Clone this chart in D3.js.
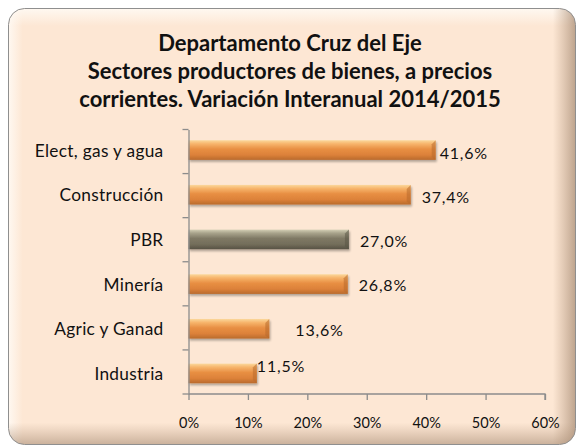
<!DOCTYPE html>
<html>
<head>
<meta charset="utf-8">
<script src="https://cdn.jsdelivr.net/npm/d3@7"></script>
<style>
  body { margin: 0; background: #fff; }
  svg text { font-family: Lato, "Open Sans", sans-serif; fill: #111; }
</style>
</head>
<body>
<div class="content"></div>
<script>
const titleLines = [
  'Departamento Cruz del Eje',
  'Sectores productores de bienes, a precios',
  'corrientes. Variación Interanual 2014/2015'
];
const categories = ['Elect, gas y agua', 'Construcción', 'PBR', 'Minería', 'Agric y Ganad', 'Industria'];
const values = [41.6, 37.4, 27.0, 26.8, 13.6, 11.5];
const xTicks = [0, 10, 20, 30, 40, 50, 60];

// manual nudges of the value labels, as in the original
const labelNudge = {
  'Elect, gas y agua': [4, 0],
  'Construcción': [11, 0],
  'PBR': [11, 0],
  'Minería': [11, 0],
  'Agric y Ganad': [26, 0],
  'Industria': [0, -8]
};

const width = 578, height = 448;
const margin = { left: 188.5, right: 33, top: 129.5, bottom: 54 };

const svg = d3.select('div.content')
              .append('svg')
              .attr('width', width)
              .attr('height', height);

const defs = svg.append('defs');

const addGrad = (id, stops, x2, y2) => {
  const g = defs.append('linearGradient')
    .attr('id', id).attr('x1', 0).attr('y1', 0).attr('x2', x2).attr('y2', y2);
  stops.forEach(([o, c, a]) => g.append('stop')
    .attr('offset', o).attr('stop-color', c).attr('stop-opacity', a === undefined ? 1 : a));
};

addGrad('orange', [['0%', '#fbd89c'], ['18%', '#f7b56c'], ['45%', '#e88f43'], ['75%', '#dc8139'], ['100%', '#b96a2c']], 0, 1);
addGrad('gray', [['0%', '#d4cfb5'], ['18%', '#a8a38b'], ['45%', '#7f7965'], ['75%', '#736d5a'], ['100%', '#575244']], 0, 1);
addGrad('edgeR', [['0%', '#b89a80', 0], ['96%', '#b89a80', 0], ['100%', '#a88d76', 0.75]], 1, 0);
addGrad('edgeB', [['0%', '#b89a80', 0], ['95%', '#b89a80', 0], ['100%', '#a88d76', 0.6]], 0, 1);
addGrad('edgeL', [['0%', '#fffaf4', 0.9], ['2.5%', '#fffaf4', 0]], 1, 0);
addGrad('edgeT', [['0%', '#fffaf4', 0.9], ['4%', '#fffaf4', 0]], 0, 1);

const shadow = defs.append('filter').attr('id', 'shadow')
  .attr('x', '-5%').attr('y', '-5%').attr('width', '115%').attr('height', '130%');
shadow.append('feGaussianBlur').attr('in', 'SourceAlpha').attr('stdDeviation', 1.2);
shadow.append('feOffset').attr('dx', 1).attr('dy', 2).attr('result', 'b');
shadow.append('feComponentTransfer').append('feFuncA').attr('type', 'linear').attr('slope', 0.3);
const merge = shadow.append('feMerge');
merge.append('feMergeNode');
merge.append('feMergeNode').attr('in', 'SourceGraphic');

// outer rounded frame with a bevel look
const fx = 8.5, fy = 8.5, fw = 567, fh = 436, fr = 16;
defs.append('clipPath').attr('id', 'frameClip')
    .append('rect').attr('x', fx).attr('y', fy).attr('width', fw).attr('height', fh).attr('rx', fr);

svg.append('rect')
   .attr('x', fx).attr('y', fy).attr('width', fw).attr('height', fh).attr('rx', fr)
   .attr('fill', '#fde7d4');
const bevel = svg.append('g').attr('clip-path', 'url(#frameClip)');
['edgeL', 'edgeT', 'edgeR', 'edgeB'].forEach(id => {
  bevel.append('rect')
       .attr('x', fx).attr('y', fy).attr('width', fw).attr('height', fh)
       .attr('fill', `url(#${id})`);
});
svg.append('rect')
   .attr('x', fx).attr('y', fy).attr('width', fw).attr('height', fh).attr('rx', fr)
   .attr('fill', 'none')
   .attr('stroke', '#8f8f8f');

// title
svg.append('text')
   .attr('text-anchor', 'middle')
   .attr('font-weight', 'bold')
   .attr('font-size', 22)
   .selectAll('tspan')
   .data(titleLines)
   .enter()
   .append('tspan')
   .attr('x', 290)
   .attr('y', (d, i) => 51 + i * 28)
   .text(d => d);

const xScale = d3.scaleLinear()
                 .domain([0, 60])
                 .range([margin.left, width - margin.right]);

const yScale = d3.scaleBand()
                 .domain(categories)
                 .range([margin.top, height - margin.bottom])
                 .paddingInner(0.56)
                 .paddingOuter(0.24);

const data = categories.map((c, i) => ({ name: c, value: values[i] }));

// bars
const bars = svg.append('g').selectAll('g.bar')
  .data(data)
  .enter()
  .append('g')
  .attr('class', 'bar')
  .attr('filter', 'url(#shadow)');

bars.append('rect')
    .attr('x', xScale(0))
    .attr('y', d => yScale(d.name))
    .attr('width', d => xScale(d.value) - xScale(0))
    .attr('height', yScale.bandwidth())
    .attr('fill', d => d.name === 'PBR' ? 'url(#gray)' : 'url(#orange)');

// bevelled right end
bars.append('path')
    .attr('d', d => {
      const x = xScale(d.value), y = yScale(d.name), h = yScale.bandwidth();
      return `M${x},${y} L${x - 4},${y + 4} L${x - 4},${y + h - 3} L${x},${y + h} Z`;
    })
    .attr('fill', d => d.name === 'PBR' ? '#5a5546' : '#b8692c')
    .attr('opacity', 0.55);

// axes
const yAxis = d3.axisLeft(yScale).tickSize(0).tickFormat(d => d);
const yG = svg.append('g')
   .attr('transform', `translate(${margin.left},0)`)
   .call(yAxis);
yG.select('.domain').attr('stroke', '#8c8c8c').attr('stroke-width', 1.3);
yG.selectAll('.tick text')
  .attr('x', -25)
  .attr('dy', '0.38em')
  .attr('font-size', 17.3)
  .attr('letter-spacing', 0.3)
  .attr('font-family', 'Lato, sans-serif')
  .attr('fill', '#111');

// category boundary tick marks
const rowH = (height - margin.bottom - margin.top) / categories.length;
svg.append('g').selectAll('line')
   .data(d3.range(categories.length + 1))
   .enter()
   .append('line')
   .attr('x1', margin.left - 6)
   .attr('x2', margin.left)
   .attr('y1', i => margin.top + i * rowH)
   .attr('y2', i => margin.top + i * rowH)
   .attr('stroke', '#8c8c8c')
   .attr('stroke-width', 1.3);

const xAxis = d3.axisBottom(xScale)
                .tickValues(xTicks)
                .tickSize(6)
                .tickFormat(d => d + '%');
const xG = svg.append('g')
   .attr('transform', `translate(0,${height - margin.bottom})`)
   .call(xAxis);
xG.select('.domain').attr('d', `M${xScale(0)},0H${xScale(60)}V6`).attr('stroke', '#8c8c8c').attr('stroke-width', 1.3);
xG.selectAll('.tick line').attr('stroke', '#8c8c8c').attr('stroke-width', 1.3);
xG.selectAll('.tick text')
  .attr('y', 24)
  .attr('font-size', 14.5)
  .attr('font-family', 'Lato, sans-serif')
  .attr('fill', '#111');

// value labels
svg.append('g').selectAll('text')
   .data(data)
   .enter()
   .append('text')
   .attr('x', d => xScale(d.value) + labelNudge[d.name][0])
   .attr('y', d => margin.top + (categories.indexOf(d.name) + 0.5) * rowH + labelNudge[d.name][1])
   .attr('dy', '0.48em')
   .attr('font-size', 16)
   .attr('letter-spacing', 0.8)
   .text(d => d.value.toFixed(1).replace('.', ',') + '%');
</script>
</body>
</html>
